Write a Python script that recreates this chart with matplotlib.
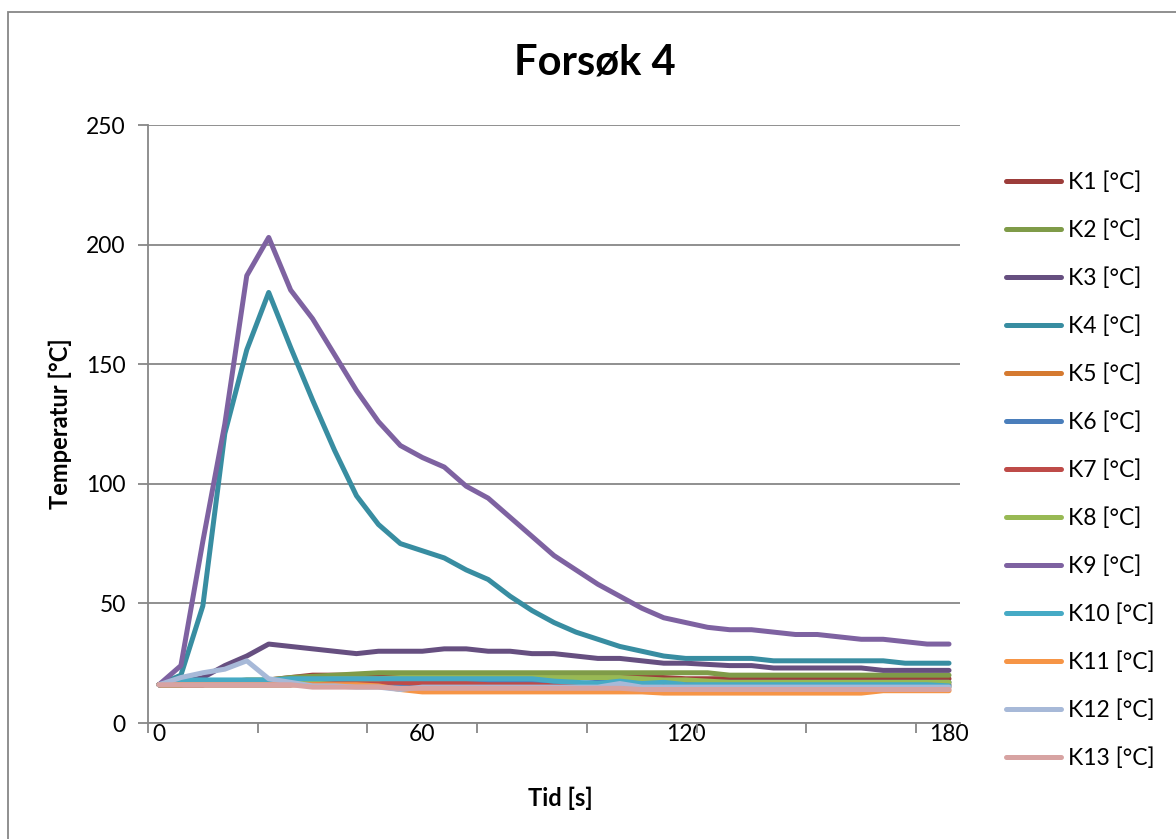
import numpy as np
import matplotlib
matplotlib.use("Agg")
import matplotlib.pyplot as plt
from matplotlib.patches import Rectangle

# -- data (time in s, step 5 s)
tid = list(range(0, 181, 5))

K1 = [16, 16, 16, 17, 17, 18, 19, 20, 20, 20, 20, 20, 20, 20, 20, 20, 20, 20, 19.5, 19.5,
      19.5, 19.5, 19.5, 19, 18.5, 18.5, 18.5, 18.5, 18.5, 18.5, 18.5, 18.5, 18.5, 18.5, 18.5, 18.5, 18.5]
K2 = [16, 16, 17, 17, 18, 18, 19, 19.5, 20, 20.5, 21, 21, 21, 21, 21, 21, 21, 21, 21, 21,
      21, 21, 21, 21, 21, 21, 20, 20, 20, 20, 20, 20, 20, 20, 20, 20, 20]
K3 = [16, 17, 19, 24, 28, 33, 32, 31, 30, 29, 30, 30, 30, 31, 31, 30, 30, 29, 29, 28,
      27, 27, 26, 25, 25, 24.5, 24, 24, 23, 23, 23, 23, 23, 22, 22, 22, 22]
K4 = [16, 20, 49, 121, 156, 180, 157, 135, 114, 95, 83, 75, 72, 69, 64, 60, 53, 47, 42, 38,
      35, 32, 30, 28, 27, 27, 27, 27, 26, 26, 26, 26, 26, 26, 25, 25, 25]
K5 = [16, 16, 16, 16, 16, 16, 16, 16, 16, 16, 16, 15.5, 15, 15, 15, 15, 15, 15, 15, 15,
      15, 15, 15, 15, 15, 15, 15, 15, 15, 15, 15, 15, 15, 15, 15, 15, 15]
K6 = [16, 16, 16, 16, 16, 16, 16, 16.5, 16.5, 16.5, 16.5, 16.5, 16.5, 16.5, 16.5, 16.5, 16.5, 16.5, 16.5, 16.5,
      17, 17.5, 17, 17, 17, 17, 17, 17, 17, 17, 17, 17, 17, 17, 17, 17, 17]
K7 = [16, 16, 16, 16, 16, 16, 16, 17, 17, 17, 17, 17, 16.5, 16.5, 16.5, 16, 16, 16, 15.5, 15.5,
      15.5, 15.5, 16, 16, 16, 16, 16, 16, 16, 16, 16, 16, 16, 16, 16, 16, 16]
K8 = [16, 16, 17, 17, 17, 18, 18, 18, 18.5, 18.5, 18.5, 19, 19, 19, 19, 19, 19, 19, 19, 19,
      19, 19, 18.5, 18, 18, 17.5, 17, 17, 17, 17, 17, 17, 17, 17, 17, 17, 17]
K9 = [16, 24, 76, 125, 187, 203, 181, 169, 154, 139, 126, 116, 111, 107, 99, 94, 86, 78, 70, 64,
      58, 53, 48, 44, 42, 40, 39, 39, 38, 37, 37, 36, 35, 35, 34, 33, 33]
K10 = [16, 18, 18, 18, 18, 18, 18.5, 18.5, 18.5, 18.5, 18.5, 18.5, 18.5, 18.5, 18.5, 18.5, 18.5, 18.5, 17.5, 17,
       16.5, 17.5, 16.5, 17, 16, 16, 16, 16, 16, 16, 16, 16, 16, 16, 16, 16, 15.5]
K11 = [16, 16, 16, 16, 16, 16, 16, 16, 16, 16, 15.5, 14, 13, 13, 13, 13, 13, 13, 13, 13,
       13, 13, 13, 12.5, 12.5, 12.5, 12.5, 12.5, 12.5, 12.5, 12.5, 12.5, 12.5, 13.5, 13.5, 13.5, 13.5]
K12 = [16, 19, 21, 22.5, 26, 18.5, 17, 15.5, 15.5, 15, 15, 14, 15, 15, 15, 15, 15, 15, 15, 15,
       15, 16.5, 15, 15, 15, 15, 15, 15, 15, 15, 15, 15, 15, 15, 15, 15, 15]
K13 = [16, 16, 16, 16, 16, 16, 16, 15, 15, 15, 15, 14.5, 14.5, 14.5, 14.5, 14.5, 14.5, 14.5, 14.5, 14.5,
       14.5, 14.5, 14, 14, 14, 14, 14, 14, 14, 14, 14, 14, 14, 14, 14, 14, 14]

serier = [K1, K2, K3, K4, K5, K6, K7, K8, K9, K10, K11, K12, K13]
navn = ['K%d [°C]' % (i + 1) for i in range(len(serier))]
farger = ['#9C3D3A', '#7F9B48', '#664F80', '#388DA1', '#D57A30', '#4A7EBB', '#BE4B48',
          '#98B954', '#7E62A1', '#46AAC5', '#F69546', '#A7B9D8', '#D7A3A2']

plt.rcParams['font.family'] = ['Lato', 'DejaVu Sans']
font_size = 16.5
grid_color = '#878787'

W, H = 1176, 839
fig = plt.figure(figsize=(W / 100, H / 100), dpi=100)
# chart area border (Excel style)
fig.patches.append(Rectangle((8 / W, -0.05), 1.2, 1 - 12 / H + 0.05, transform=fig.transFigure,
                             fill=False, edgecolor=grid_color, linewidth=1.3))

ax = fig.add_axes([148 / W, 1 - 723 / H, (960 - 148) / W, (723 - 125) / H])

x = np.arange(len(tid))
for serie, lab, col in zip(serier, navn, farger):
    ax.plot(x, serie, color=col, linewidth=3.6, label=lab, solid_capstyle='round',
            solid_joinstyle='round')

ax.set_xlim(-0.5, len(tid) - 0.5)
ax.set_ylim(0, 250)
ax.set_yticks(np.arange(0, 251, 50))
ax.yaxis.grid(True, color=grid_color, linewidth=1.3)
ax.set_axisbelow(True)

# labels every 60 s, tick marks at category borders every 5 categories
lab_pos = [i for i, t in enumerate(tid) if t % 60 == 0]
ax.set_xticks(lab_pos)
ax.set_xticklabels([str(tid[i]) for i in lab_pos])
ax.set_xticks(np.arange(-0.5, len(tid), 5), minor=True)
ax.tick_params(axis='x', which='major', length=0, pad=1, labelsize=font_size)
ax.tick_params(axis='x', which='minor', length=7, width=1.3, color=grid_color)
ax.tick_params(axis='y', length=7, width=1.3, color=grid_color, labelsize=font_size, pad=9)

for s in ['top', 'right']:
    ax.spines[s].set_visible(False)
for s in ['left', 'bottom']:
    ax.spines[s].set_color(grid_color)
    ax.spines[s].set_linewidth(1.3)

fig.text(595 / W, 1 - 63 / H, 'Forsøk 4', fontsize=30, weight='bold', ha='center', va='center')
fig.text(560 / W, 1 - 798 / H, 'Tid [s]', fontsize=17, weight='bold', ha='center', va='center')
fig.text(60 / W, 1 - 424 / H, 'Temperatur [°C]', fontsize=17, weight='bold', ha='center',
         va='center', rotation=90)

leg = ax.legend(loc='upper left', bbox_to_anchor=(1.045, 0.937), frameon=False,
                fontsize=font_size, handlelength=2.4, handletextpad=0.3, labelspacing=1.15,
                borderaxespad=0)
for h in leg.get_lines():
    h.set_linewidth(3.6)

fig.savefig('out.png', dpi=100)
